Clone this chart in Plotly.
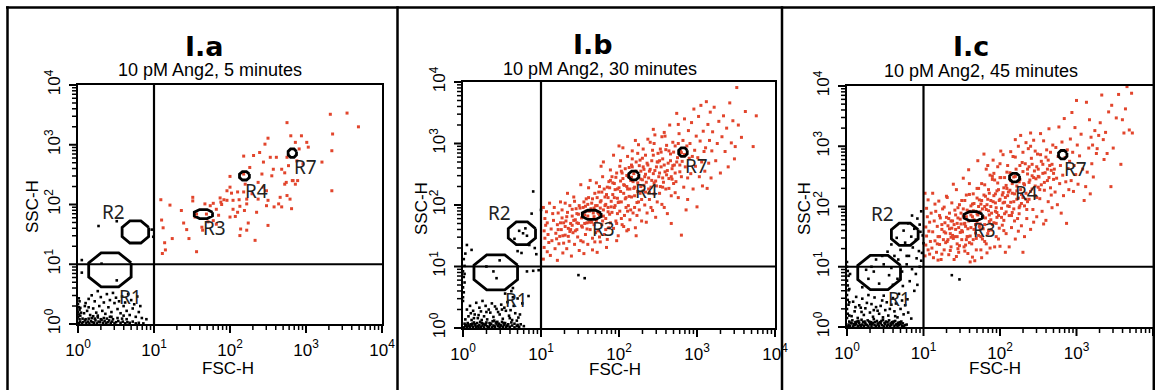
import math
import plotly.graph_objects as go

W, H = 1155, 390

# ---------------- text ----------------
PANEL_IDS = ["I.a", "I.b", "I.c"]
PANEL_SUBTITLES = ["10 pM Ang2, 5 minutes", "10 pM Ang2, 30 minutes", "10 pM Ang2, 45 minutes"]
X_LABEL = "FSC-H"
Y_LABEL = "SSC-H"
TICK_VALUES = [1, 10, 100, 1000, 10000]
TICK_TEXT = ["10<sup>0</sup>", "10<sup>1</sup>", "10<sup>2</sup>", "10<sup>3</sup>", "10<sup>4</sup>"]
QUADRANT_SPLIT = 10

# ---------------- gates (values in decades, log10 units) ----------------
GATE_NAMES = ["R1", "R2", "R3", "R4", "R7"]
GATE_FSC = [0.42, 0.755, 1.65, 2.19, 2.82]
GATE_SSC = [0.905, 1.54, 1.84, 2.48, 2.86]
GATE_HALF_FSC = [0.28, 0.175, 0.12, 0.065, 0.055]
GATE_HALF_SSC = [0.285, 0.185, 0.075, 0.07, 0.07]
GATE_LABEL_FSC = [0.69, 0.47, 1.80, 2.35, 2.99]
GATE_LABEL_SSC = [0.46, 1.87, 1.61, 2.23, 2.63]

# ---------------- events: (log10 FSC-H x100, log10 SSC-H x100) ----------------
A_RED = [(109,208),(121,199),(110,174),(112,161),(114,136),(115,124),(111,118),(124,143),(136,190),(139,169),
(146,143),(151,212),(151,206),(156,121),(163,162),(164,157),(169,184),(171,171),(174,198),(178,202),(178,173),
(182,167),(182,192),(185,182),(187,211),(188,204),(189,200),(192,208),(196,223),(196,207),(200,247),(200,229),
(200,179),(202,219),(204,207),(204,192),(207,180),(210,221),(210,187),(212,208),(213,148),(213,197),(214,159),
(218,281),(218,251),(218,221),(219,190),(220,234),(222,209),(222,201),(222,157),(224,169),(226,262),(229,218),
(231,282),(233,140),(235,187),(237,237),(237,209),(239,287),(242,251),(244,271),(244,229),(246,301),(248,223),
(248,198),(250,311),(250,207),(250,165),(253,279),(255,248),(257,259),(258,196),(261,279),(264,201),(266,212),
(268,259),(268,196),(272,253),(272,234),(274,237),(275,337),(275,215),(275,279),(277,265),(279,209),(280,315),
(281,193),(282,240),(283,240),(286,304),(286,234),(288,273),(289,240),(291,293),(294,315),(296,268),(301,304),
(303,296),(321,271),(332,351),(334,290),(335,318),(334,223),(354,353),(369,330),(154,179),(143,158),(167,201),(156,184)]

A_BLACK = [(27,164),(51,172),(5,107),(5,86),(31,101),(51,73),(97,158),(99,146),
(1,2),(3,4),(5,1),(7,3),(9,6),(11,2),(13,4),(15,1),(17,5),(19,3),(21,2),(23,6),(25,1),(27,4),(29,3),(31,7),(33,2),
(35,5),(37,1),(39,3),(41,6),(43,2),(45,4),(48,1),(50,3),(53,5),(56,2),(59,4),(62,1),(65,3),(68,2),(72,4),(76,1),
(80,2),(86,1),(2,8),(6,9),(10,8),(14,9),(18,10),(22,9),(26,11),(30,8),(34,10),(38,9),(42,12),(46,8),(52,10),(58,9),
(64,8),(0,12),(1,16),(0,20),(2,24),(1,28),(0,33),(2,38),(1,43),(3,14),(4,19),(3,27),
(8,18),(12,22),(16,15),(20,26),(24,19),(28,30),(32,22),(36,17),(40,28),(44,20),(48,35),(52,25),(56,18),(60,30),
(64,22),(68,15),(72,26),(76,12),(80,20),(84,10),(90,8),(10,35),(14,42),(18,48),(22,38),(26,55),(30,45),(34,36),
(38,50),(42,40),(46,52),(50,44),(54,38),(58,46),(62,36),(66,50),(70,40),(74,33),(78,46),(82,30),(14,28),(9,30),
(26,14),(44,12),(60,14),(20,13)]

B_RED = [(103,112),(104,131),(105,146),(104,158),(106,167),(105,178),(107,189),(103,196),(108,124),(109,152),(108,171),(110,139),
(112,118),(114,142),(113,161),(116,175),(118,129),(117,196),(119,154),(121,168),(122,187),(123,137),(125,205),(124,149),
(126,160),(127,179),(128,122),(129,171),(121,110),(115,186),(120,145),(127,192),(129,138),(111,203),
(131,151),(132,174),(133,129),(134,188),(135,162),(136,141),(137,199),(138,170),(139,117),(140,182),(141,155),(142,213),
(143,136),(144,176),(145,194),(146,160),(147,148),(148,185),(149,126),(131,203),(134,219),(137,157),(140,167),(143,206),
(146,171),(149,199),
(151,142),(152,179),(153,164),(154,196),(155,121),(156,184),(157,152),(158,210),(159,171),(160,136),(161,228),(162,190),
(163,160),(164,176),(165,203),(166,146),(167,187),(168,168),(169,219),(170,155),(151,233),(154,140),(157,198),(160,182),
(163,240),(166,127),(168,195),(153,186),(159,161),(165,172),
(171,175),(172,199),(173,158),(174,221),(175,184),(176,140),(177,207),(178,168),(179,246),(180,192),(181,152),(182,213),
(183,178),(184,131),(185,229),(186,196),(187,163),(188,185),(189,257),(190,206),(171,236),(173,188),(175,148),(177,263),
(179,174),(181,226),(183,201),(185,144),(187,238),(189,171),(172,123),(180,270),(186,212),(176,195),
(191,188),(192,217),(193,162),(194,235),(195,199),(196,174),(197,252),(198,211),(199,150),(200,228),(201,190),(202,272),
(203,205),(204,168),(205,243),(206,219),(207,183),(208,259),(209,196),(210,158),(191,246),(193,281),(195,225),(197,142),
(199,204),(201,263),(203,178),(205,293),(207,232),(209,212),(194,196),(198,186),(202,239),(206,165),(210,248),(200,296),
(211,226),(212,199),(213,261),(214,176),(215,240),(216,213),(217,288),(218,187),(219,251),(220,229),(221,163),(222,270),
(223,204),(224,236),(225,298),(226,192),(227,219),(228,255),(229,174),(230,241),(211,279),(213,214),(215,192),(217,262),
(219,227),(221,305),(223,183),(225,247),(227,273),(229,209),(212,160),(216,245),(220,196),(224,284),(228,230),(222,150),
(231,223),(232,258),(233,200),(234,281),(235,237),(236,187),(237,265),(238,244),(239,209),(240,302),(241,229),(242,272),
(243,191),(244,251),(245,218),(246,314),(247,239),(248,262),(249,205),(250,284),(231,291),(233,246),(235,172),(237,307),
(239,255),(241,196),(243,289),(245,236),(247,180),(249,270),(234,221),(244,323),
(251,246),(252,219),(253,291),(254,262),(255,201),(256,275),(257,237),(258,318),(259,254),(260,226),(261,297),(262,186),
(263,268),(264,243),(265,330),(266,283),(267,215),(268,259),(269,302),(270,235),(252,272),(255,311),(258,196),(261,249),
(264,288),(267,170),(269,264),(256,229),
(271,265),(272,296),(273,238),(274,349),(275,277),(276,212),(277,316),(278,254),(279,288),(280,151),(281,271),(282,305),
(283,229),(284,340),(285,262),(286,192),(287,296),(288,244),(289,321),(290,276),(272,220),(276,331),(280,246),(284,282),
(288,209),
(291,300),(292,251),(293,334),(294,279),(295,226),(296,356),(297,289),(298,263),(299,312),(300,197),(301,277),(302,344),
(303,246),(304,304),(305,362),(306,270),(307,231),(308,320),(309,287),(310,255),
(311,293),(312,368),(313,227),(314,331),(315,268),(316,305),(317,351),(318,244),(319,288),(320,319),(322,359),(324,272),
(326,300),(328,336),(330,252),
(332,311),(334,345),(336,287),(338,325),(340,262),(342,366),(344,301),(346,337),(348,275),(349,295),
(351,391),(353,330),(357,310),(362,352),(376,345),(372,295),
(122,160),(125,171),(128,150),(131,165),(133,181),(135,149),(138,160),(140,193),(142,175),(144,158),(146,186),(148,170),
(150,195),(152,166),(154,183),(156,170),(158,190),(160,201),(162,172),(164,194),(166,210),(168,181),(170,199),(172,212),
(174,186),(176,205),(178,221),(180,182),(182,199),(184,217),(186,189),(188,228),(190,197),(192,236),(194,212),(196,245),
(198,226),(200,205),(202,222),(204,252),(206,233),(208,210),(210,230),(212,246),(214,226),(216,265),(218,238),(220,215),
(222,255),(224,222),(226,264),(228,242),(230,276),(232,232),(234,250),(236,268),(238,226),(240,258),(242,240),(244,281),
(246,256),(248,231),(250,270),(252,252),(254,286),(256,244),(258,265),(260,290),(262,256),(264,227),(266,272),(268,242),
(270,286),(272,252),(274,270),(276,300),(278,265),(280,285),(169,140),(183,160),(197,170),(211,190),(225,205),(239,220),
(253,230),(267,246),(155,205),(161,212),(175,230),(189,240),(203,255),(217,275),(231,262),(245,300),(259,312)]

B_BLACK = [(1,1),(3,3),(5,2),(7,5),(9,1),(11,4),(13,2),(15,6),(17,1),(19,3),(21,5),(23,2),(25,4),(27,1),(29,6),(31,3),
(33,2),(35,5),(37,1),(39,4),(41,2),(43,6),(45,3),(47,1),(49,4),(51,2),(53,5),(55,1),(57,3),(60,2),(63,4),(66,1),(69,3),
(72,2),(2,7),(6,8),(10,6),(14,9),(18,8),(22,10),(26,7),(30,9),(34,8),(38,11),(42,9),(46,7),(50,10),(54,8),(58,6),(62,9),
(66,7),(70,5),(74,6),(78,3),(4,5),(8,3),(12,7),(16,4),(20,1),(24,8),(28,5),(32,1),(36,7),(40,3),(44,10),(48,5),(52,8),
(56,4),
(3,14),(7,19),(11,13),(15,22),(19,16),(23,27),(27,19),(31,14),(35,25),(39,18),(43,31),(47,22),(51,15),(55,28),(59,20),
(63,13),(67,24),(71,17),(5,30),(9,36),(13,28),(17,41),(21,33),(25,44),(29,36),(33,30),(37,40),(41,35),(45,26),(49,38),
(53,33),(57,42),(61,29),(65,36),(69,12),(73,22),(10,24),(20,21),(30,26),(40,12),(50,30),(60,16),(14,16),(24,13),
(0,50),(1,58),(0,66),(2,74),(1,83),(0,92),(2,101),(1,112),(3,121),(5,135),(0,44),(2,88),
(90,222),(88,186),(100,192),(11,127),(77,154),(82,150),(85,135),(92,130),(94,120),(70,125),(75,122),(82,92),(90,93),
(97,94),(39,92),(43,81),(30,100),(47,110),(148,86),(156,81),(70,48),(76,40),(84,52),(62,60),(54,56),(64,65),(72,158),
(80,162),(66,145),(64,50)]

C_RED = [(102,118),(103,136),(104,151),(103,166),(105,183),(104,197),(106,128),(107,159),(108,174),(106,211),(109,142),
(110,189),(108,121),(102,222),
(111,131),(112,158),(113,115),(114,176),(115,143),(116,192),(117,124),(118,167),(119,150),(120,209),(121,137),(122,181),
(123,112),(124,162),(125,196),(126,145),(127,128),(128,173),(129,156),(130,217),(112,222),(115,204),(118,138),(121,185),
(124,121),(127,199),(129,140),(119,111),
(131,142),(132,168),(133,120),(134,189),(135,155),(136,133),(137,206),(138,176),(139,147),(140,112),(141,194),(142,162),
(143,228),(144,138),(145,181),(146,124),(147,203),(148,157),(149,171),(150,145),(131,215),(133,180),(135,127),(137,164),
(139,237),(141,150),(143,117),(145,198),(147,135),(149,189),(136,149),(144,172),
(151,158),(152,184),(153,133),(154,210),(155,167),(156,145),(157,194),(158,122),(159,176),(160,238),(161,151),(162,201),
(163,138),(164,183),(165,221),(166,162),(167,110),(168,192),(169,147),(170,173),(152,247),(154,126),(156,219),(158,163),
(160,140),(162,186),(164,116),(166,205),(168,156),(170,230),(153,171),(157,150),(161,108),(165,193),(169,128),(159,261),
(171,186),(172,152),(173,211),(174,171),(175,128),(176,238),(177,196),(178,163),(179,219),(180,142),(181,181),(182,262),
(183,203),(184,155),(185,228),(186,175),(187,131),(188,210),(189,189),(190,245),(171,276),(173,167),(175,204),(177,146),
(179,287),(181,217),(183,123),(185,193),(187,252),(189,161),(172,230),(176,115),(180,200),(184,268),(188,178),(174,191),
(182,138),(186,222),
(191,208),(192,173),(193,244),(194,192),(195,150),(196,226),(197,266),(198,185),(199,210),(200,134),(201,248),(202,197),
(203,169),(204,286),(205,231),(206,188),(207,215),(208,155),(209,257),(210,201),(191,277),(193,133),(195,198),(197,239),
(199,164),(201,292),(203,219),(205,177),(207,124),(209,230),(192,255),(196,182),(200,271),(204,206),(208,191),(194,221),
(198,146),(206,248),
(211,224),(212,185),(213,256),(214,207),(215,165),(216,238),(217,283),(218,196),(219,221),(220,146),(221,262),(222,212),
(223,180),(224,300),(225,241),(226,201),(227,228),(228,168),(229,273),(230,215),(212,133),(214,291),(216,190),(218,249),
(220,311),(222,234),(224,159),(226,268),(228,205),(230,124),(213,227),(219,176),(225,188),(227,318),
(231,238),(232,201),(233,271),(234,222),(235,180),(236,254),(237,296),(238,212),(239,244),(240,162),(241,280),(242,229),
(243,195),(244,310),(245,259),(246,218),(247,246),(248,183),(249,287),(250,232),(232,150),(234,306),(236,208),(238,266),
(240,322),(242,251),(244,174),(246,292),(248,215),(250,262),
(251,249),(252,213),(253,286),(254,236),(255,192),(256,270),(257,309),(258,227),(259,256),(260,177),(261,294),(262,243),
(263,208),(264,329),(265,268),(266,231),(267,260),(268,198),(269,302),(270,245),(253,321),(257,171),(263,277),(267,219),
(271,262),(272,224),(273,298),(274,247),(275,203),(276,283),(277,332),(278,238),(279,268),(280,189),(281,307),(282,252),
(283,218),(284,346),(285,281),(286,241),(287,172),(288,294),(289,263),(290,228),
(291,275),(292,312),(293,243),(294,356),(295,290),(296,225),(297,268),(298,331),(299,253),(300,376),(301,302),(302,237),
(304,284),(306,320),(308,262),(310,210),
(312,233),(313,373),(314,257),(316,297),(317,344),(318,221),(319,315),(320,271),(321,302),(322,249),(324,326),(326,288),
(327,296),(329,318),
(331,339),(333,385),(335,311),(336,278),(338,323),(340,288),(342,357),(345,233),(346,368),(348,297),
(352,347),(355,386),(358,270),(360,344),(362,322),(364,362),(366,399),(369,327),(372,388),(373,322),
(121,150),(124,170),(127,158),(130,182),(132,145),(134,163),(136,176),(138,152),(140,170),(142,186),(144,150),(146,165),
(148,179),(150,160),(152,196),(154,172),(156,183),(158,150),(160,192),(162,165),(164,204),(166,178),(168,170),(170,188),
(172,200),(174,162),(176,210),(178,183),(180,170),(182,195),(184,212),(186,186),(188,200),(190,170),(192,218),(194,206),
(196,190),(198,228),(200,212),(202,182),(204,223),(206,207),(208,235),(210,218),(212,200),(214,243),(216,222),(218,208),
(220,250),(222,226),(224,214),(226,245),(228,220),(230,258),(232,236),(234,212),(236,262),(238,240),(240,225),(242,270),
(244,248),(246,234),(248,266),(250,250),(252,228),(254,275),(256,255),(258,240),(260,282),(262,262),(264,248),(266,290),
(268,270),(270,255),(145,130),(155,136),(165,145),(175,150),(185,160),(195,172),(205,160),(215,185),(225,198),(235,195),
(150,210),(160,220),(170,214),(180,236),(190,250),(200,248),(210,268),(220,282),(230,290),(240,300)]

C_BLACK = [(1,1),(2,4),(4,2),(6,6),(8,1),(10,3),(12,5),(14,2),(16,7),(18,1),(20,4),(22,2),(24,6),(26,3),(28,1),(30,5),
(32,2),(34,7),(36,3),(38,1),(40,4),(42,2),(44,6),(46,3),(48,1),(50,5),(52,2),(54,4),(56,1),(58,3),(60,6),(62,2),(64,4),
(66,1),(68,3),(70,5),(72,2),(74,1),(76,3),(3,9),(7,11),(11,8),(15,10),(19,12),(23,9),(27,11),(31,8),(35,13),(39,10),
(43,8),(47,12),(51,9),(55,11),(59,8),(63,10),(67,7),(71,9),(5,7),(9,5),(13,9),(17,3),(21,8),(25,4),(29,9),(33,5),(37,8),
(41,6),(45,10),(49,7),(53,8),(57,6),(61,9),(65,5),(69,8),(73,6),(78,4),
(0,15),(1,22),(0,30),(2,37),(1,45),(0,53),(2,61),(1,69),(0,77),(2,85),(1,93),(0,100),(3,19),(3,41),(3,63),(4,88),(0,108),
(6,18),(10,26),(14,15),(18,32),(22,20),(26,40),(30,24),(34,17),(38,33),(42,22),(46,44),(50,28),(54,19),(58,37),(62,26),
(66,16),(70,30),(74,21),(8,42),(12,50),(16,36),(20,47),(24,31),(28,53),(32,38),(36,49),(40,27),(44,35),(48,52),(52,41),
(56,30),(60,48),(64,39),(68,55),(72,44),(76,36),(80,24),(84,14),(11,33),(19,25),(35,28),(47,16),(63,18),(79,46),
(20,66),(28,80),(35,92),(42,72),(48,104),(55,86),(60,70),(38,112),(46,118),(32,100),(58,98),(25,95),(66,80),(72,92),
(78,104),(85,96),(90,88),(95,100),(73,68),(82,76),(92,70),(88,60),
(53,125),(58,137),(62,118),(67,112),(70,128),(76,140),(81,118),(86,132),(90,145),(94,126),(97,110),(99,152),(95,170),
(92,180),(97,192),(88,163),(84,150),(78,118),(65,148),(85,185),(100,139),(96,158),(74,160),(80,172),(91,114),(98,123),
(137,86),(147,79)]

RED_EVENTS = [A_RED, B_RED, C_RED]
BLACK_EVENTS = [A_BLACK, B_BLACK, C_BLACK]

# ---------------- layout geometry (pixels) ----------------
PLOT_BOX = [(78, 382, 85, 324), (463, 775, 82, 328), (847, 1153, 86, 327)]  # left, right, top, bottom
TITLE_POS = [(204, 46), (593, 44), (971, 46)]
SUB_POS = [(210, 70), (600, 69), (981, 71)]
XT_POS = [(228, 368), (615, 369), (995, 368)]
YT_POS = [(32, 207), (421, 209), (804, 209)]

RED = "#e2452c"
TICK_FONT = dict(family="Liberation Sans, Arial, sans-serif", size=17, color="black")
MINOR_TICKS = [m * 10 ** d for d in range(4) for m in range(2, 10)]
MAJOR_LEN, MINOR_LEN = 8, 5


def octagon(cx, cy, a, b):
    xs, ys = [], []
    for i in range(9):
        t = math.radians(22.5 + 45 * i)
        xs.append(10 ** (cx + 1.08 * a * math.cos(t)))
        ys.append(10 ** (cy + 1.08 * b * math.sin(t)))
    return xs, ys


fig = go.Figure()
annotations = []
layout_axes = {}
shapes = []

for i in range(3):
    sfx = "" if i == 0 else str(i + 1)
    xa, ya = "x" + sfx, "y" + sfx
    l, r, t, b = PLOT_BOX[i]
    pw, ph = r - l, b - t

    blk = BLACK_EVENTS[i]
    fig.add_trace(go.Scatter(
        x=[10 ** (p[0] / 100) for p in blk], y=[10 ** (p[1] / 100) for p in blk],
        mode="markers", marker=dict(color="black", size=2.6, symbol="square", line=dict(width=0)),
        xaxis=xa, yaxis=ya, hoverinfo="skip"))
    red = RED_EVENTS[i]
    fig.add_trace(go.Scatter(
        x=[10 ** (p[0] / 100) for p in red], y=[10 ** (p[1] / 100) for p in red],
        mode="markers", marker=dict(color=RED, size=3, symbol="square", line=dict(width=0)),
        xaxis=xa, yaxis=ya, hoverinfo="skip"))

    fig.add_trace(go.Scatter(x=[QUADRANT_SPLIT, QUADRANT_SPLIT, None, 1, 10000],
                             y=[1, 10000, None, QUADRANT_SPLIT, QUADRANT_SPLIT],
                             mode="lines", line=dict(color="black", width=2.2),
                             xaxis=xa, yaxis=ya, hoverinfo="skip"))
    gx, gy = [], []
    for g in range(len(GATE_NAMES)):
        ox, oy = octagon(GATE_FSC[g], GATE_SSC[g], GATE_HALF_FSC[g], GATE_HALF_SSC[g])
        gx += ox + [None]
        gy += oy + [None]
    fig.add_trace(go.Scatter(x=gx, y=gy, mode="lines", line=dict(color="black", width=2.8),
                             xaxis=xa, yaxis=ya, hoverinfo="skip"))
    for g, name in enumerate(GATE_NAMES):
        annotations.append(dict(x=GATE_LABEL_FSC[g], y=GATE_LABEL_SSC[g], xref=xa, yref=ya, text=name,
                                showarrow=False, font=dict(family="Noto Sans, sans-serif", size=19, color="#222")))

    # log-axis tick marks (decades long, 2..9 short) drawn just outside the frame, on the same 4-decade scale
    for v in TICK_VALUES + MINOR_TICKS:
        major = v in TICK_VALUES
        ln = MAJOR_LEN if major else MINOR_LEN
        wd = 2 if major else 1.5
        frac = math.log10(v) / 4
        xp = l + pw * frac
        yp = b - ph * frac
        shapes.append(dict(type="line", xref="paper", yref="paper", x0=xp / W, x1=xp / W,
                           y0=1 - (b + 1) / H, y1=1 - (b + 1 + ln) / H, line=dict(color="black", width=wd)))
        shapes.append(dict(type="line", xref="paper", yref="paper", x0=(l - 1) / W, x1=(l - 1 - ln) / W,
                           y0=1 - yp / H, y1=1 - yp / H, line=dict(color="black", width=wd)))

    common = dict(type="log", range=[0, 4], showgrid=False, zeroline=False, showline=True, linecolor="black",
                  linewidth=2.2, mirror=True, ticks="outside", ticklen=MAJOR_LEN + 1, tickwidth=1,
                  tickcolor="rgba(0,0,0,0)", tickmode="array", tickvals=TICK_VALUES, ticktext=TICK_TEXT,
                  tickfont=TICK_FONT, automargin=False)
    layout_axes["xaxis" + sfx] = dict(common, domain=[l / W, r / W], anchor=ya, tickangle=0)
    layout_axes["yaxis" + sfx] = dict(common, domain=[1 - b / H, 1 - t / H], anchor=xa, tickangle=-90)

    annotations.append(dict(x=TITLE_POS[i][0] / W, y=1 - TITLE_POS[i][1] / H, xref="paper", yref="paper",
                            text="<b>" + PANEL_IDS[i] + "</b>", showarrow=False, xanchor="center", yanchor="middle",
                            font=dict(family="DejaVu Sans, sans-serif", size=27, color="black")))
    annotations.append(dict(x=SUB_POS[i][0] / W, y=1 - SUB_POS[i][1] / H, xref="paper", yref="paper",
                            text=PANEL_SUBTITLES[i], showarrow=False, xanchor="center", yanchor="middle",
                            font=dict(family="Liberation Sans, Arial, sans-serif", size=18, color="black")))
    annotations.append(dict(x=XT_POS[i][0] / W, y=1 - XT_POS[i][1] / H, xref="paper", yref="paper",
                            text=X_LABEL, showarrow=False, xanchor="center", yanchor="middle",
                            font=dict(family="Liberation Sans, Arial, sans-serif", size=17, color="black")))
    annotations.append(dict(x=YT_POS[i][0] / W, y=1 - YT_POS[i][1] / H, xref="paper", yref="paper",
                            text=Y_LABEL, showarrow=False, xanchor="center", yanchor="middle", textangle=-90,
                            font=dict(family="Liberation Sans, Arial, sans-serif", size=17, color="black")))

shapes.append(dict(type="line", xref="paper", yref="paper", x0=6 / W, x1=1155 / W, y0=1 - 7.5 / H, y1=1 - 7.5 / H,
                   line=dict(color="black", width=2.5)))
for xp in [7.5, 397.5, 782, 1153.8]:
    shapes.append(dict(type="line", xref="paper", yref="paper", x0=xp / W, x1=xp / W, y0=-0.05, y1=1 - 6.3 / H,
                       line=dict(color="black", width=2.5)))

fig.update_layout(template="none", width=W, height=H,
                  margin=dict(l=0, r=0, t=0, b=0, pad=0, autoexpand=False),
                  paper_bgcolor="white", plot_bgcolor="white", showlegend=False,
                  font=dict(family="Liberation Sans, Arial, sans-serif", color="black"),
                  annotations=annotations, shapes=shapes, **layout_axes)

fig.write_html("out.html", config={"displayModeBar": False})
